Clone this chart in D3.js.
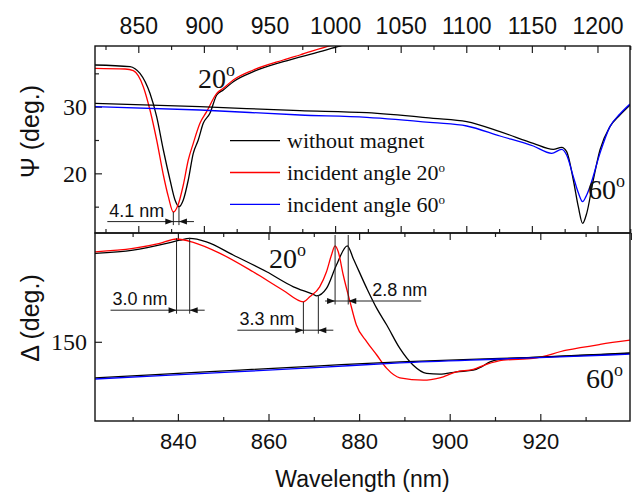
<!DOCTYPE html>
<html>
<head>
<meta charset="utf-8">
<script src="https://cdn.jsdelivr.net/npm/d3@7"></script>
<style>
body { margin: 0; background: #fff; }
svg { display: block; }
.sans { font-family: "Liberation Sans", Arial, sans-serif; }
.serif { font-family: "Liberation Serif", "Times New Roman", serif; }
.axis .tick line { stroke: #222; stroke-width: 1.2; }
.axis .tick text { fill: #111; }
</style>
</head>
<body>
<div id="chart"></div>
<script>
// top panel: Psi (deg.) vs wavelength read on the top axis
var psiNoMagnet20 = [[817.0,36.25],[843.7,36.0],[847.5,35.7],[851.3,35.0],[858.9,32.0],[864.0,28.5],[869.1,23.5],[874.2,19.0],[878.0,16.0],[881.0,15.0],[884.3,16.0],[888.1,19.0],[891.9,23.0],[895.7,25.0],[899.5,27.5],[904.6,29.0],[909.8,31.75],[914.8,32.5],[922.4,33.75],[937.7,35.25],[960.5,36.75],[988.5,38.25],[1003.7,39.1],[1022.8,39.85]];
var psiAngle20 = [[817.0,35.75],[839.9,35.65],[846.2,35.4],[853.8,33.0],[858.9,29.5],[864.0,25.0],[869.1,19.75],[872.9,16.5],[876.7,14.2],[880.3,15.25],[884.3,18.25],[888.1,22.0],[891.9,24.5],[897.0,27.5],[902.1,29.25],[909.8,32.0],[914.8,32.75],[922.4,34.0],[937.7,35.5],[960.5,37.0],[973.2,37.75],[998.6,39.25],[1022.8,40.0]];
var psiNoMagnet60 = [[817.0,30.5],[897.0,30.0],[973.2,29.4],[1024.1,29.1],[1074.8,28.25],[1100.3,27.75],[1125.7,26.25],[1151.1,24.5],[1166.3,23.6],[1172.7,23.9],[1176.5,23.25],[1181.6,19.0],[1185.4,15.0],[1188.7,12.5],[1191.8,14.0],[1196.8,19.0],[1201.9,23.5],[1209.5,27.0],[1217.1,28.75],[1224.8,30.25]];
var psiAngle60 = [[817.0,30.0],[897.0,29.5],[973.2,28.75],[1024.1,28.4],[1074.8,27.6],[1100.3,27.1],[1125.7,25.6],[1151.1,24.1],[1165.1,23.0],[1172.7,23.6],[1176.5,22.75],[1181.6,19.5],[1185.2,17.2],[1188.7,15.75],[1191.2,16.5],[1194.3,18.0],[1201.9,23.0],[1209.5,27.0],[1217.1,28.9],[1224.8,30.4]];

// bottom panel: Delta (deg.) vs wavelength (bottom axis)
var deltaNoMagnet20 = [[821.7,172.1],[830.1,172.9],[837.5,174.6],[840.4,175.4],[842.6,175.85],[846.3,175.0],[852.2,171.7],[859.6,167.5],[865.5,163.75],[869.9,161.85],[870.6,161.5],[872.8,163.35],[875.0,169.2],[877.4,174.0],[878.7,170.85],[881.7,163.35],[883.9,158.35],[886.1,154.2],[889.0,148.35],[891.9,144.2],[894.9,142.1],[897.8,141.9],[901.5,142.5],[905.2,142.9],[907.0,143.75],[908.9,145.0],[911.1,145.6],[918.4,146.1],[925.8,146.5],[933.2,146.85],[939.8,147.25]];
var deltaAngle20 = [[821.7,172.5],[830.1,173.35],[836.0,174.6],[839.7,175.7],[843.4,174.85],[849.3,172.1],[856.6,167.5],[863.2,162.9],[867.7,160.0],[869.1,161.25],[871.3,163.75],[872.8,167.5],[873.9,171.7],[874.7,174.0],[875.4,172.5],[876.5,166.7],[878.0,160.0],[879.4,154.2],[881.7,150.0],[883.9,146.7],[886.1,143.35],[889.0,141.0],[894.2,140.4],[897.8,141.0],[901.5,142.5],[905.2,143.1],[908.1,144.35],[911.8,145.4],[918.4,145.85],[925.8,147.9],[933.2,149.35],[939.8,150.4]];
var deltaNoMagnet60 = [[821.7,141.0],[844.9,142.4],[871.3,144.0],[889.0,145.0],[911.1,145.85],[925.8,146.4],[939.8,147.1]];
var deltaAngle60 = [[821.7,140.7],[844.9,142.05],[871.3,143.6],[889.0,144.75],[911.1,145.7],[925.8,146.3],[939.8,146.9]];

// tick labels
var topTicks = [850, 900, 950, 1000, 1050, 1100, 1150, 1200];
var topMinor = [825, 875, 925, 975, 1025, 1075, 1125, 1175, 1225];
var bottomTicks = [840, 860, 880, 900, 920];
var bottomMajor = [840, 860, 880, 900, 920, 940];
var bottomMinor = [830, 850, 870, 890, 910, 930];
var psiTicks = [20, 30];
var psiMinor = [15, 25, 35];
var deltaTicks = [150];

var legendNames = ["without magnet", "incident angle 20", "incident angle 60"];

// peak shift markers (wavelengths of the two peaks/dips)
var psiShifts = [
    {from: 876.7, to: 881.0, fromTop: 14.2, toTop: 15.0, at: 12.76, label: "4.1 nm", side: "left"}
];
var deltaShifts = [
    {from: 839.7, to: 842.6, fromTop: 175.9, toTop: 176.0, at: 157.9, label: "3.0 nm", side: "left"},
    {from: 867.7, to: 871.0, fromTop: 160.0, toTop: 161.7, at: 152.9, label: "3.3 nm", side: "left"},
    {from: 874.7, to: 877.6, fromTop: 176.7, toTop: 176.7, at: 160.2, label: "2.8 nm", side: "right"}
];

var width = 633, height = 493;
var left = 95, right = 630, top1 = 46, mid = 233, bottom2 = 421;

var svg = d3.select("#chart").append("svg")
    .attr("width", width)
    .attr("height", height);

var xTop = d3.scaleLinear().domain([817, 1224.8]).range([left, right]);
var xBot = d3.scaleLinear().domain([821.7, 939.8]).range([left, right]);
var yPsi = d3.scaleLinear().domain([11.05, 39.1]).range([mid, top1]);
var yDelta = d3.scaleLinear().domain([130.2, 177.2]).range([bottom2, mid]);

// clip paths
var defs = svg.append("defs");
defs.append("clipPath").attr("id", "clipTop").append("rect")
    .attr("x", left).attr("y", top1).attr("width", right - left).attr("height", mid - top1);
defs.append("clipPath").attr("id", "clipBot").append("rect")
    .attr("x", left).attr("y", mid).attr("width", right - left).attr("height", bottom2 - mid);

function clean(g) { g.select(".domain").remove(); }

// ---- axes ----
// top axis with labels
svg.append("g").attr("class", "axis sans")
    .attr("transform", "translate(0," + top1 + ")")
    .call(d3.axisTop(xTop).tickValues(topTicks).tickSize(-7).tickPadding(12).tickFormat(d3.format("d")))
    .call(clean)
    .selectAll("text").style("font-size", "23px");
svg.append("g").attr("class", "axis")
    .attr("transform", "translate(0," + top1 + ")")
    .call(d3.axisTop(xTop).tickValues(topMinor).tickSize(-4).tickFormat(""))
    .call(clean);
// bottom edge of top panel
svg.append("g").attr("class", "axis")
    .attr("transform", "translate(0," + mid + ")")
    .call(d3.axisBottom(xTop).tickValues(topTicks).tickSize(-7).tickFormat(""))
    .call(clean);
svg.append("g").attr("class", "axis")
    .attr("transform", "translate(0," + mid + ")")
    .call(d3.axisBottom(xTop).tickValues(topMinor).tickSize(-4).tickFormat(""))
    .call(clean);
// top edge of bottom panel
svg.append("g").attr("class", "axis")
    .attr("transform", "translate(0," + mid + ")")
    .call(d3.axisTop(xBot).tickValues(bottomMajor).tickSize(-7).tickFormat(""))
    .call(clean);
svg.append("g").attr("class", "axis")
    .attr("transform", "translate(0," + mid + ")")
    .call(d3.axisTop(xBot).tickValues(bottomMinor).tickSize(-4).tickFormat(""))
    .call(clean);
// bottom axis with labels
svg.append("g").attr("class", "axis sans")
    .attr("transform", "translate(0," + bottom2 + ")")
    .call(d3.axisBottom(xBot).tickValues(bottomTicks).tickSize(-7).tickPadding(12))
    .call(clean)
    .selectAll("text").style("font-size", "22px");
svg.append("g").attr("class", "axis")
    .attr("transform", "translate(0," + bottom2 + ")")
    .call(d3.axisBottom(xBot).tickValues(bottomMinor).tickSize(-4).tickFormat(""))
    .call(clean);

// left axes
svg.append("g").attr("class", "axis serif")
    .attr("transform", "translate(" + left + ",0)")
    .call(d3.axisLeft(yPsi).tickValues(psiTicks).tickSize(-7).tickPadding(8))
    .call(clean)
    .selectAll("text").style("font-size", "24px");
svg.append("g").attr("class", "axis")
    .attr("transform", "translate(" + left + ",0)")
    .call(d3.axisLeft(yPsi).tickValues(psiMinor).tickSize(-4).tickFormat(""))
    .call(clean);
svg.append("g").attr("class", "axis serif")
    .attr("transform", "translate(" + left + ",0)")
    .call(d3.axisLeft(yDelta).tickValues(deltaTicks).tickSize(-7).tickPadding(8))
    .call(clean)
    .selectAll("text").style("font-size", "24px");

// ---- curves ----
var psiLine = d3.line()
    .x(function (d) { return xTop(d[0]); })
    .y(function (d) { return yPsi(d[1]); })
    .curve(d3.curveMonotoneX);
var deltaLine = d3.line()
    .x(function (d) { return xBot(d[0]); })
    .y(function (d) { return yDelta(d[1]); })
    .curve(d3.curveMonotoneX);

var topPlot = svg.append("g").attr("clip-path", "url(#clipTop)");
var botPlot = svg.append("g").attr("clip-path", "url(#clipBot)");

var psiSeries = [
    {d: psiNoMagnet20, c: "#000000"},
    {d: psiAngle20, c: "#ff0000"},
    {d: psiNoMagnet60, c: "#000000"},
    {d: psiAngle60, c: "#0000ff"}
];
var deltaSeries = [
    {d: deltaNoMagnet20, c: "#000000"},
    {d: deltaAngle20, c: "#ff0000"},
    {d: deltaNoMagnet60, c: "#000000"},
    {d: deltaAngle60, c: "#0000ff"}
];

topPlot.selectAll("path").data(psiSeries).enter().append("path")
    .attr("d", function (s) { return psiLine(s.d); })
    .attr("fill", "none")
    .attr("stroke", function (s) { return s.c; })
    .attr("stroke-width", 1.3);
botPlot.selectAll("path").data(deltaSeries).enter().append("path")
    .attr("d", function (s) { return deltaLine(s.d); })
    .attr("fill", "none")
    .attr("stroke", function (s) { return s.c; })
    .attr("stroke-width", 1.3);

// ---- shift markers ----
function drawShift(g, xs, ys, s) {
    var xa = xs(s.from), xb = xs(s.to), ya = ys(s.at);
    var lineBottom = ya + 3.5;
    g.append("line").attr("x1", xa).attr("x2", xa)
        .attr("y1", ys(s.fromTop)).attr("y2", lineBottom);
    g.append("line").attr("x1", xb).attr("x2", xb)
        .attr("y1", ys(s.toTop)).attr("y2", lineBottom);
    var tailL = s.side === "left" ? 66 : 10;
    var tailR = s.side === "left" ? 15 : 73;
    g.append("line").attr("x1", xa - tailL).attr("x2", xb + tailR)
        .attr("y1", ya).attr("y2", ya);
    // arrows point inward onto the two markers
    g.append("path").attr("d", "M" + xa + "," + ya + "l-8,-3l0,6z").attr("fill", "#111").attr("stroke", "none");
    g.append("path").attr("d", "M" + xb + "," + ya + "l8,-3l0,6z").attr("fill", "#111").attr("stroke", "none");
    var tx = s.side === "left" ? xa - tailL + 2 : xb + 24;
    g.append("text").attr("class", "sans")
        .attr("x", tx).attr("y", ya - 5)
        .attr("stroke", "none").attr("fill", "#111")
        .style("font-size", "18px")
        .text(s.label);
}
var markG = svg.append("g").attr("stroke", "#222").attr("stroke-width", 1);
psiShifts.forEach(function (s) { drawShift(markG, xTop, yPsi, s); });
deltaShifts.forEach(function (s) { drawShift(markG, xBot, yDelta, s); });

// ---- frames ----
svg.append("rect").attr("x", left).attr("y", top1).attr("width", right - left).attr("height", mid - top1)
    .attr("fill", "none").attr("stroke", "#111").attr("stroke-width", 1.4);
svg.append("rect").attr("x", left).attr("y", mid).attr("width", right - left).attr("height", bottom2 - mid)
    .attr("fill", "none").attr("stroke", "#111").attr("stroke-width", 1.4);

// ---- angle labels ----
function degLabel(x, y, num, size, supSize, raise) {
    var t = svg.append("text").attr("class", "serif")
        .attr("x", x).attr("y", y).attr("fill", "#111")
        .style("font-size", size + "px");
    t.append("tspan").text(num);
    t.append("tspan").attr("dy", -raise).style("font-size", supSize + "px").text("o");
    return t;
}
degLabel(xTop(895.5), yPsi(32.76), "20", 28, 18, 12);
degLabel(xTop(1192.8), yPsi(16.16), "60", 28, 18, 12);
degLabel(xBot(860.1), yDelta(168.4), "20", 28, 18, 12);
degLabel(xBot(930.1), yDelta(138.4), "60", 28, 18, 12);

// ---- legend ----
var legend = svg.append("g").attr("transform", "translate(230,140.7)");
var legendColors = ["#000000", "#ff0000", "#0000ff"];
legendNames.forEach(function (name, i) {
    var row = legend.append("g").attr("transform", "translate(0," + (i * 31.8) + ")");
    row.append("line").attr("x1", 0).attr("x2", 50).attr("y1", 0).attr("y2", 0)
        .attr("stroke", legendColors[i]).attr("stroke-width", 1.3);
    var t = row.append("text").attr("class", "serif")
        .attr("x", 57).attr("y", 7.5).attr("fill", "#111")
        .style("font-size", "22px");
    t.append("tspan").text(name);
    if (i > 0) {
        t.append("tspan").attr("dy", -8).style("font-size", "13px").text("o");
    }
});

// ---- axis titles ----
svg.append("text").attr("class", "sans")
    .attr("transform", "translate(30," + ((top1 + mid) / 2 - 8) + ") rotate(-90)")
    .attr("text-anchor", "middle").attr("dominant-baseline", "central")
    .style("font-size", "25px").attr("fill", "#111")
    .text("\u03A8 (deg.)");
svg.append("text").attr("class", "sans")
    .attr("transform", "translate(30," + ((mid + bottom2) / 2 - 9) + ") rotate(-90)")
    .attr("text-anchor", "middle").attr("dominant-baseline", "central")
    .style("font-size", "25px").attr("fill", "#111")
    .text("\u0394 (deg.)");
svg.append("text").attr("class", "sans")
    .attr("x", (left + right) / 2).attr("y", 487)
    .attr("text-anchor", "middle")
    .style("font-size", "23px").attr("fill", "#111")
    .text("Wavelength (nm)");
</script>
</body>
</html>
